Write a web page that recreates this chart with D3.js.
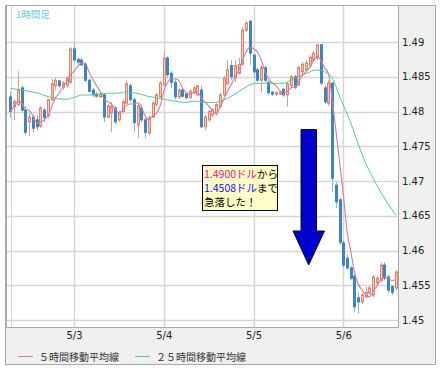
<!DOCTYPE html>
<html>
<head>
<meta charset="utf-8">
<script src="https://cdn.jsdelivr.net/npm/d3@7"></script>
<style>
body { margin: 0; background: #fff; }
</style>
</head>
<body>
<div class="container"></div>
<script>
// hourly candles, first one at 5/2 07:00
var start = new Date(2011, 4, 2, 7);

var open = [1.4821,1.4807,1.4810,1.4834,1.4802,1.4785,1.4792,1.4788,1.4779,1.4802,
            1.4794,1.4817,1.4837,1.4844,1.4835,1.4838,1.4842,1.4890,1.4875,1.4874,
            1.4868,1.4845,1.4831,1.4825,1.4821,1.4824,1.4792,1.4798,1.4805,1.4788,
            1.4800,1.4812,1.4837,1.4817,1.4781,1.4805,1.4788,1.4769,1.4792,1.4810,
            1.4821,1.4838,1.4877,1.4855,1.4842,1.4821,1.4831,1.4825,1.4820,1.4828,
            1.4824,1.4831,1.4778,1.4788,1.4795,1.4797,1.4807,1.4824,1.4840,1.4866,
            1.4848,1.4855,1.4868,1.4917,1.4930,1.4881,1.4860,1.4845,1.4863,1.4842,
            1.4828,1.4825,1.4825,1.4832,1.4824,1.4837,1.4850,1.4838,1.4857,1.4860,
            1.4866,1.4874,1.4877,1.4896,1.4834,1.4812,1.4841,1.4694,1.4673,1.4611,
            1.4589,1.4575,1.4563,1.4532,1.4526,1.4533,1.4539,1.4536,1.4553,1.4557,
            1.4579,1.4562,1.4548,1.4546];
var high = [1.4828,1.4817,1.4858,1.4837,1.4808,1.4798,1.4795,1.4795,1.4808,1.4805,
            1.4818,1.4847,1.4848,1.4845,1.4844,1.4851,1.4893,1.4899,1.4878,1.4878,
            1.4871,1.4847,1.4834,1.4828,1.4828,1.4825,1.4811,1.4814,1.4808,1.4801,
            1.4817,1.4844,1.4840,1.4820,1.4811,1.4810,1.4791,1.4794,1.4815,1.4827,
            1.4844,1.4886,1.4880,1.4858,1.4845,1.4834,1.4834,1.4828,1.4832,1.4837,
            1.4838,1.4837,1.4795,1.4802,1.4805,1.4812,1.4827,1.4851,1.4874,1.4874,
            1.4874,1.4877,1.4922,1.4930,1.4932,1.4884,1.4863,1.4867,1.4866,1.4845,
            1.4829,1.4829,1.4829,1.4834,1.4842,1.4853,1.4853,1.4866,1.4871,1.4873,
            1.4881,1.4887,1.4897,1.4897,1.4838,1.4845,1.4842,1.4699,1.4676,1.4615,
            1.4594,1.4578,1.4566,1.4540,1.4539,1.4548,1.4549,1.4565,1.4563,1.4582,
            1.4583,1.4565,1.4550,1.4572];
var low  = [1.4791,1.4788,1.4808,1.4800,1.4766,1.4765,1.4770,1.4773,1.4776,1.4784,
            1.4791,1.4815,1.4831,1.4834,1.4831,1.4834,1.4840,1.4871,1.4867,1.4866,
            1.4842,1.4828,1.4821,1.4820,1.4820,1.4785,1.4791,1.4770,1.4782,1.4785,
            1.4797,1.4811,1.4814,1.4770,1.4762,1.4784,1.4762,1.4766,1.4791,1.4807,
            1.4820,1.4837,1.4848,1.4834,1.4817,1.4818,1.4820,1.4817,1.4818,1.4825,
            1.4822,1.4776,1.4773,1.4785,1.4792,1.4794,1.4805,1.4822,1.4837,1.4845,
            1.4842,1.4853,1.4866,1.4914,1.4867,1.4848,1.4842,1.4828,1.4842,1.4824,
            1.4822,1.4822,1.4824,1.4821,1.4807,1.4834,1.4832,1.4837,1.4853,1.4857,
            1.4863,1.4871,1.4874,1.4838,1.4811,1.4808,1.4684,1.4661,1.4608,1.4575,
            1.4572,1.4557,1.4512,1.4509,1.4523,1.4532,1.4536,1.4533,1.4550,1.4555,
            1.4557,1.4539,1.4536,1.4543];
var close = [1.4800,1.4814,1.4831,1.4802,1.4770,1.4792,1.4776,1.4778,1.4805,1.4791,
             1.4817,1.4840,1.4845,1.4837,1.4841,1.4848,1.4890,1.4874,1.4871,1.4867,
             1.4845,1.4829,1.4824,1.4822,1.4825,1.4792,1.4808,1.4807,1.4785,1.4798,
             1.4814,1.4840,1.4817,1.4784,1.4808,1.4788,1.4770,1.4791,1.4812,1.4824,
             1.4841,1.4877,1.4853,1.4842,1.4821,1.4831,1.4822,1.4820,1.4829,1.4834,
             1.4837,1.4778,1.4792,1.4800,1.4802,1.4810,1.4824,1.4848,1.4860,1.4850,
             1.4866,1.4868,1.4917,1.4927,1.4884,1.4857,1.4845,1.4863,1.4845,1.4827,
             1.4825,1.4827,1.4828,1.4824,1.4840,1.4850,1.4835,1.4863,1.4868,1.4870,
             1.4878,1.4884,1.4896,1.4841,1.4814,1.4841,1.4704,1.4670,1.4612,1.4579,
             1.4575,1.4560,1.4519,1.4526,1.4536,1.4540,1.4546,1.4562,1.4560,1.4579,
             1.4560,1.4543,1.4540,1.4569];

var ma25 = [1.48331,1.48324,1.48317,1.48309,1.48299,1.48289,1.48281,1.48269,1.48255,1.48233,
            1.48213,1.48201,1.48189,1.48180,1.48177,1.48176,1.48184,1.48201,1.48223,1.48237,
            1.48237,1.48237,1.48237,1.48245,1.48252,1.48260,1.48262,1.48262,1.48262,1.48266,
            1.48273,1.48281,1.48273,1.48266,1.48259,1.48245,1.48230,1.48216,1.48209,1.48197,
            1.48187,1.48176,1.48166,1.48157,1.48148,1.48140,1.48134,1.48132,1.48140,1.48148,
            1.48145,1.48137,1.48132,1.48131,1.48131,1.48132,1.48144,1.48166,1.48187,1.48216,
            1.48252,1.48288,1.48317,1.48353,1.48384,1.48399,1.48403,1.48404,1.48406,1.48406,
            1.48406,1.48406,1.48406,1.48407,1.48424,1.48453,1.48482,1.48504,1.48525,1.48547,
            1.48568,1.48593,1.48597,1.48590,1.48571,1.48540,1.48489,1.48367,1.48223,1.48094,
            1.47964,1.47835,1.47683,1.47532,1.47389,1.47252,1.47144,1.47036,1.46935,1.46842,
            1.46755,1.46669,1.46590,1.46511];

var yTicks = [1.45, 1.455, 1.46, 1.465, 1.47, 1.475, 1.48, 1.485, 1.49];
var dayTicks = [new Date(2011, 4, 3), new Date(2011, 4, 4), new Date(2011, 4, 5), new Date(2011, 4, 6)];
var legendNames = ["５時間移動平均線", "２５時間移動平均線"];
var legendColors = ["#cc7f9f", "#55c98e"];

//Makes the stage
function makeStage(w, h) {
    var stage = d3.select(".container")
    .insert("svg")
    .attr("width", w)
    .attr("height", h)
    .style("display", "block");
    return stage;
}

var mystage = makeStage(443, 373);

var x = d3.scaleTime()
    .domain([new Date(2011, 4, 2, 5, 49), new Date(2011, 4, 6, 14, 38)])
    .range([6, 398]);
var y = d3.scaleLinear().domain([1.45, 1.49]).range([320, 42]);

// frame
mystage.append("rect").attr("x", 5.5).attr("y", 5.5).attr("width", 430).attr("height", 359)
    .attr("fill", "#f0f0f0").attr("stroke", "#a8a8a8");
mystage.append("rect").attr("x", 6).attr("y", 6).attr("width", 392).attr("height", 321)
    .attr("fill", "#fff");

// grid
mystage.append("g").selectAll("line").data(yTicks).enter().append("line")
    .attr("x1", 6).attr("x2", 398)
    .attr("y1", function(d) { return Math.round(y(d)) + 0.5; })
    .attr("y2", function(d) { return Math.round(y(d)) + 0.5; })
    .attr("stroke", "#d6d6d6").attr("stroke-width", 1.5);
mystage.append("g").selectAll("line").data(dayTicks).enter().append("line")
    .attr("x1", function(d) { return Math.round(x(d)) + 0.5; })
    .attr("x2", function(d) { return Math.round(x(d)) + 0.5; })
    .attr("y1", 6).attr("y2", 327)
    .attr("stroke", "#d6d6d6").attr("stroke-width", 1.5);
mystage.append("line").attr("x1", 11.5).attr("x2", 11.5).attr("y1", 6).attr("y2", 327)
    .attr("stroke", "#d6d6d6");

// plot border
mystage.append("path").attr("d", "M6.5,6 V327.5 H398.5 V6")
    .attr("fill", "none").attr("stroke", "#a8a8a8");

mystage.append("clipPath").attr("id", "clip").append("rect")
    .attr("x", 6).attr("y", 6).attr("width", 392).attr("height", 321);

var candles = d3.range(open.length).map(function(i) {
    var lo = Math.max(0, i - 4);
    return {
        t: d3.timeHour.offset(start, i),
        o: open[i], h: high[i], l: low[i], c: close[i],
        ma5: d3.mean(close.slice(lo, i + 1)),
        ma25: ma25[i]
    };
});

var plot = mystage.append("g").attr("clip-path", "url(#clip)");

var g = plot.selectAll("g.candle").data(candles).enter().append("g");
g.append("line")
    .attr("x1", function(d) { return Math.round(x(d.t)) + 0.5; })
    .attr("x2", function(d) { return Math.round(x(d.t)) + 0.5; })
    .attr("y1", function(d) { return y(d.h); })
    .attr("y2", function(d) { return y(d.l); })
    .attr("stroke", function(d) { return d.c >= d.o ? "#e89a88" : "#86b6e0"; });
g.append("rect")
    .attr("x", function(d) { return Math.round(x(d.t)) - 1 + 0.5; })
    .attr("width", 2)
    .attr("y", function(d) { return y(Math.max(d.o, d.c)); })
    .attr("height", function(d) { return Math.max(1, Math.abs(y(d.o) - y(d.c))); })
    .attr("fill", function(d) { return d.c >= d.o ? "#f7c9bb" : "#3d84c2"; })
    .attr("stroke", function(d) { return d.c >= d.o ? "#e3826c" : "#3d84c2"; });

var line5 = d3.line().curve(d3.curveMonotoneX)
    .x(function(d) { return x(d.t); }).y(function(d) { return y(d.ma5); });
var line25 = d3.line().curve(d3.curveMonotoneX)
    .x(function(d) { return x(d.t); }).y(function(d) { return y(d.ma25); });
plot.append("path").datum(candles).attr("d", line25)
    .attr("fill", "none").attr("stroke", legendColors[1]).attr("stroke-width", 1);
plot.append("path").datum(candles).attr("d", line5)
    .attr("fill", "none").attr("stroke", legendColors[0]).attr("stroke-width", 1.1);

// axes
var yAxis = d3.axisRight(y).tickValues(yTicks).tickSize(0).tickPadding(2)
    .tickFormat(function(d) { return String(+d.toFixed(3)); });
var ya = mystage.append("g").attr("transform", "translate(400,0)").call(yAxis);
ya.select(".domain").remove();
ya.selectAll("text").attr("font-family", "DejaVu Sans").attr("font-size", 10).attr("fill", "#222");

var xAxis = d3.axisBottom(x).tickValues(dayTicks).tickSize(0).tickPadding(5)
    .tickFormat(d3.timeFormat("%-m/%-d"));
var xa = mystage.append("g").attr("transform", "translate(0,327)").call(xAxis);
xa.select(".domain").remove();
xa.selectAll("text").attr("font-family", "DejaVu Sans").attr("font-size", 10).attr("fill", "#222");

// title
mystage.append("text").text("1時間足").attr("x", 16).attr("y", 18)
    .attr("font-family", "Noto Sans CJK JP").attr("font-size", 9.5).attr("fill", "#6cc6ee");

// legend
var legX = [18, 135];
legendNames.forEach(function(name, i) {
    mystage.append("line").attr("x1", legX[i]).attr("x2", legX[i] + 15)
        .attr("y1", 356.5).attr("y2", 356.5).attr("stroke", legendColors[i]);
    mystage.append("text").text(name).attr("x", legX[i] + 21).attr("y", 360.5)
        .attr("font-family", "Noto Sans CJK JP").attr("font-size", 10).attr("fill", "#333");
});

// annotation
mystage.append("rect").attr("x", 202.5).attr("y", 165.5).attr("width", 75).attr("height", 45)
    .attr("fill", "#ffffc8").attr("stroke", "#000");
var lines = [[["1.4900ドル", "#ee1188"], ["から", "#000"]],
             [["1.4508ドル", "#1010ee"], ["まで", "#000"]],
             [["急落した！", "#000"]]];
lines.forEach(function(parts, i) {
    var t = mystage.append("text").attr("x", 204).attr("y", 177.5 + i * 14)
        .attr("font-family", "Noto Sans CJK JP").attr("font-size", 10.5);
    parts.forEach(function(p) { t.append("tspan").text(p[0]).attr("fill", p[1]); });
});

// arrow
mystage.append("polygon")
    .attr("points", "301,129.5 316.5,129.5 316.5,231 324.5,231 308.7,265 293,231 301,231")
    .attr("fill", "#0000cc").attr("stroke", "#111").attr("stroke-width", 1);
</script>
</body>
</html>
